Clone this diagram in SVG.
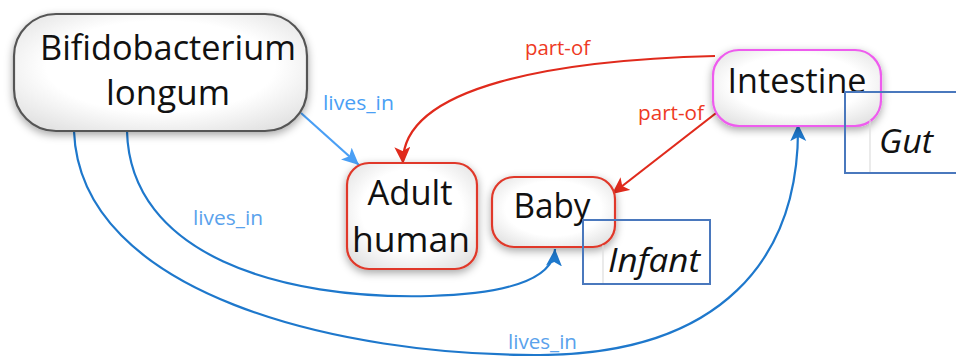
<svg xmlns="http://www.w3.org/2000/svg" width="956" height="356" viewBox="0 0 956 356">
<style>
.node{fill:url(#nf);stroke-width:2.2}
.t{font-family:"Open Sans","Liberation Sans",sans-serif;fill:#111;font-size:34px}
.ti{font-family:"Open Sans","Liberation Sans",sans-serif;fill:#111;font-size:32px;font-style:italic}
.lbl{font-family:"Open Sans","Liberation Sans",sans-serif;font-size:20px}
.box{fill:none;stroke:#4a78bd;stroke-width:2}
.faint{stroke:#ddd;stroke-width:1.2}
.c{fill:none;stroke-width:2.2}
</style>
<defs>
<radialGradient id="nf" cx="50%" cy="45%" r="65%">
<stop offset="0.6" stop-color="#ffffff"/>
<stop offset="1" stop-color="#e2e2e2"/>
</radialGradient>
<filter id="sh" x="-20%" y="-20%" width="140%" height="150%">
<feDropShadow dx="0" dy="3" stdDeviation="4" flood-color="#000" flood-opacity="0.35"/>
</filter>
<marker id="aL" markerUnits="userSpaceOnUse" markerWidth="20" markerHeight="20" refX="17" refY="8" orient="auto"><path d="M0,0 L17,8 L0,16 L4,8 Z" fill="#4a9ff5"/></marker>
<marker id="aB" markerUnits="userSpaceOnUse" markerWidth="20" markerHeight="20" refX="17" refY="8" orient="auto"><path d="M0,0 L17,8 L0,16 L4,8 Z" fill="#1e78cc"/></marker>
<marker id="aR" markerUnits="userSpaceOnUse" markerWidth="20" markerHeight="20" refX="17" refY="8" orient="auto"><path d="M0,0 L17,8 L0,16 L4,8 Z" fill="#e02a1c"/></marker>
</defs>

<g id="connectors">
<path class="c" d="M301 113 L359 165" stroke="#4a9ff5" marker-end="url(#aL)"/>
<path class="c" d="M715 56 C560 60 400 85 403 164" stroke="#e02a1c" marker-end="url(#aR)"/>
<path class="c" d="M720 110 L612 194" stroke="#e02a1c" marker-end="url(#aR)"/>
<path class="c" d="M127 131 C130 255 280 300 430 296 C500 294 553 282 555 249" stroke="#1e78cc" marker-end="url(#aB)"/>
<path class="c" d="M74 131 C80 295 340 356 540 355 C720 354 800 260 798 124" stroke="#1e78cc" marker-end="url(#aB)"/>
<text class="lbl" x="323" y="110" fill="#4a9ff5" textLength="71" lengthAdjust="spacingAndGlyphs">lives_in</text>
<text class="lbl" x="525" y="55" fill="#ee3a24" textLength="65" lengthAdjust="spacingAndGlyphs">part-of</text>
<text class="lbl" x="638" y="120" fill="#ee3a24" textLength="66" lengthAdjust="spacingAndGlyphs">part-of</text>
<text class="lbl" x="193" y="225" fill="#5aa2ec" textLength="70" lengthAdjust="spacingAndGlyphs">lives_in</text>
<text class="lbl" x="508" y="349" fill="#5aa2ec" textLength="69" lengthAdjust="spacingAndGlyphs">lives_in</text>
</g>

<g id="bifido">
<rect class="node" x="14" y="14" width="293" height="117" rx="42" stroke="#555" filter="url(#sh)"/>
<text class="t" x="168" y="60" text-anchor="middle" textLength="256" lengthAdjust="spacingAndGlyphs">Bifidobacterium</text>
<text class="t" x="168" y="105" text-anchor="middle" textLength="124" lengthAdjust="spacingAndGlyphs">longum</text>
</g>

<g id="adult">
<rect class="node" x="347" y="163" width="130" height="106" rx="22" stroke="#e0392a" filter="url(#sh)"/>
<text class="t" x="410" y="205" text-anchor="middle" textLength="85" lengthAdjust="spacingAndGlyphs">Adult</text>
<text class="t" x="411" y="252" text-anchor="middle" textLength="118" lengthAdjust="spacingAndGlyphs">human</text>
</g>

<g id="baby">
<rect class="node" x="492" y="177" width="123" height="70" rx="22" stroke="#e0392a" filter="url(#sh)"/>
<text class="t" x="552" y="218" text-anchor="middle" textLength="77" lengthAdjust="spacingAndGlyphs">Baby</text>
</g>

<g id="infant">
<rect class="box" x="583" y="220" width="127" height="64"/>
<line class="faint" x1="603" y1="245" x2="603" y2="283"/>
<text class="ti" x="608" y="272" textLength="92" lengthAdjust="spacingAndGlyphs">Infant</text>
</g>

<g id="intestine">
<rect class="node" x="713" y="50" width="168" height="76" rx="26" stroke="#ee5cee" filter="url(#sh)"/>
<text class="t" x="797" y="93" text-anchor="middle" textLength="139" lengthAdjust="spacingAndGlyphs">Intestine</text>
</g>

<g id="gut">
<rect class="box" x="845" y="92" width="120" height="81"/>
<line class="faint" x1="870" y1="120" x2="870" y2="172"/>
<text class="ti" x="879" y="153" textLength="54" lengthAdjust="spacingAndGlyphs">Gut</text>
</g>
</svg>
